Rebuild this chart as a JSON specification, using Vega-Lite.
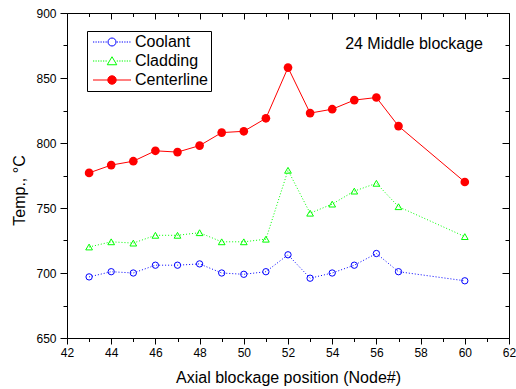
{
  "$schema": "https://vega.github.io/schema/vega-lite/v6.json",
  "width": 442,
  "height": 325,
  "autosize": {"type": "none"},
  "padding": {"left": 67, "top": 13, "right": 7, "bottom": 51},
  "background": "white",
  "config": {
    "font": "Liberation Sans",
    "view": {"stroke": "black", "strokeWidth": 1},
    "axis": {
      "grid": false,
      "domain": false,
      "tickColor": "black",
      "tickWidth": 1,
      "labelColor": "black",
      "labelFontSize": 12,
      "labelFont": "Liberation Sans",
      "labelFlush": false,
      "labelOverlap": false,
      "titleFontSize": 16,
      "titleFontWeight": "normal",
      "titleColor": "black",
      "titleFont": "Liberation Sans"
    },
    "legend": {
      "strokeColor": "black",
      "fillColor": "white",
      "strokeWidth": 1,
      "padding": 3
    }
  },
  "title": {
    "text": "24 Middle blockage",
    "anchor": "end",
    "frame": "group",
    "fontSize": 16,
    "fontWeight": "normal",
    "font": "Liberation Sans",
    "color": "black",
    "baseline": "middle",
    "offset": 0,
    "dx": -26,
    "dy": 53
  },
  "data": {
    "values": [
      {"series": "Coolant", "node": 43, "temp": 697},
      {"series": "Coolant", "node": 44, "temp": 701},
      {"series": "Coolant", "node": 45, "temp": 700},
      {"series": "Coolant", "node": 46, "temp": 706},
      {"series": "Coolant", "node": 47, "temp": 706},
      {"series": "Coolant", "node": 48, "temp": 707},
      {"series": "Coolant", "node": 49, "temp": 700},
      {"series": "Coolant", "node": 50, "temp": 699},
      {"series": "Coolant", "node": 51, "temp": 701},
      {"series": "Coolant", "node": 52, "temp": 714},
      {"series": "Coolant", "node": 53, "temp": 696},
      {"series": "Coolant", "node": 54, "temp": 700},
      {"series": "Coolant", "node": 55, "temp": 706},
      {"series": "Coolant", "node": 56, "temp": 715},
      {"series": "Coolant", "node": 57, "temp": 701},
      {"series": "Coolant", "node": 60, "temp": 694},
      {"series": "Cladding", "node": 43, "temp": 720},
      {"series": "Cladding", "node": 44, "temp": 724},
      {"series": "Cladding", "node": 45, "temp": 723},
      {"series": "Cladding", "node": 46, "temp": 729},
      {"series": "Cladding", "node": 47, "temp": 729},
      {"series": "Cladding", "node": 48, "temp": 731},
      {"series": "Cladding", "node": 49, "temp": 724},
      {"series": "Cladding", "node": 50, "temp": 724},
      {"series": "Cladding", "node": 51, "temp": 726},
      {"series": "Cladding", "node": 52, "temp": 779},
      {"series": "Cladding", "node": 53, "temp": 746},
      {"series": "Cladding", "node": 54, "temp": 753},
      {"series": "Cladding", "node": 55, "temp": 763},
      {"series": "Cladding", "node": 56, "temp": 769},
      {"series": "Cladding", "node": 57, "temp": 751},
      {"series": "Cladding", "node": 60, "temp": 728},
      {"series": "Centerline", "node": 43, "temp": 777},
      {"series": "Centerline", "node": 44, "temp": 783},
      {"series": "Centerline", "node": 45, "temp": 786},
      {"series": "Centerline", "node": 46, "temp": 794},
      {"series": "Centerline", "node": 47, "temp": 793},
      {"series": "Centerline", "node": 48, "temp": 798},
      {"series": "Centerline", "node": 49, "temp": 808},
      {"series": "Centerline", "node": 50, "temp": 809},
      {"series": "Centerline", "node": 51, "temp": 819},
      {"series": "Centerline", "node": 52, "temp": 858},
      {"series": "Centerline", "node": 53, "temp": 823},
      {"series": "Centerline", "node": 54, "temp": 826},
      {"series": "Centerline", "node": 55, "temp": 833},
      {"series": "Centerline", "node": 56, "temp": 835},
      {"series": "Centerline", "node": 57, "temp": 813},
      {"series": "Centerline", "node": 60, "temp": 770}
    ]
  },
  "layer": [
    {
      "transform": [{"filter": "datum.series == 'Coolant'"}],
      "mark": {"type": "line", "color": "#0000ff", "strokeWidth": 1, "strokeDash": [1, 2]},
      "encoding": {
        "x": {"field": "node", "type": "quantitative", "scale": {"domain": [42, 62], "nice": false, "zero": false},
          "axis": {"orient": "bottom", "values": [42, 44, 46, 48, 50, 52, 54, 56, 58, 60, 62], "format": "d", "tickSize": 6, "labelPadding": 3,
            "title": "Axial blockage position (Node#)", "titleY": 44, "titleBaseline": "alphabetic"}},
        "y": {"field": "temp", "type": "quantitative", "scale": {"domain": [650, 900], "nice": false, "zero": false},
          "axis": {"orient": "left", "values": [650, 700, 750, 800, 850, 900], "format": "d", "tickSize": 7, "labelPadding": 4,
            "title": "Temp., °C", "titleX": -48, "titleY": 177, "titleBaseline": "middle"}}
      }
    },
    {
      "transform": [{"filter": "datum.series == 'Cladding'"}],
      "mark": {"type": "line", "color": "#00ff00", "strokeWidth": 1, "strokeDash": [1, 2]},
      "encoding": {
        "x": {"field": "node", "type": "quantitative", "scale": {"domain": [42, 62], "nice": false, "zero": false},
          "axis": {"orient": "bottom", "values": [43, 45, 47, 49, 51, 53, 55, 57, 59, 61], "tickSize": 3.5, "labels": false, "title": null}},
        "y": {"field": "temp", "type": "quantitative", "scale": {"domain": [650, 900], "nice": false, "zero": false},
          "axis": {"orient": "left", "values": [675, 725, 775, 825, 875], "tickSize": 4, "labels": false, "title": null}}
      }
    },
    {
      "transform": [{"filter": "datum.series == 'Centerline'"}],
      "mark": {"type": "line", "color": "#ff0000", "strokeWidth": 1},
      "encoding": {
        "x": {"field": "node", "type": "quantitative", "scale": {"domain": [42, 62], "nice": false, "zero": false},
          "axis": {"orient": "top", "values": [42, 44, 46, 48, 50, 52, 54, 56, 58, 60, 62], "tickSize": -6, "labels": false, "title": null}},
        "y": {"field": "temp", "type": "quantitative", "scale": {"domain": [650, 900], "nice": false, "zero": false},
          "axis": {"orient": "right", "values": [650, 700, 750, 800, 850, 900], "tickSize": -7, "labels": false, "title": null}}
      }
    },
    {
      "transform": [{"filter": "datum.series == 'Coolant'"}],
      "mark": {"type": "point", "shape": "circle", "filled": false, "color": "#0000ff", "size": 40, "strokeWidth": 1, "opacity": 1},
      "encoding": {
        "x": {"field": "node", "type": "quantitative",
          "axis": {"orient": "top", "values": [43, 45, 47, 49, 51, 53, 55, 57, 59, 61], "tickSize": -3.5, "labels": false, "title": null}},
        "y": {"field": "temp", "type": "quantitative",
          "axis": {"orient": "right", "values": [675, 725, 775, 825, 875], "tickSize": -4, "labels": false, "title": null}}
      }
    },
    {
      "transform": [{"filter": "datum.series == 'Cladding'"}],
      "mark": {"type": "point", "shape": "triangle-up", "filled": false, "color": "#00ff00", "size": 45, "strokeWidth": 1, "opacity": 1},
      "encoding": {
        "x": {"field": "node", "type": "quantitative", "axis": null},
        "y": {"field": "temp", "type": "quantitative", "axis": null}
      }
    },
    {
      "transform": [{"filter": "datum.series == 'Centerline'"}],
      "mark": {"type": "point", "shape": "circle", "filled": true, "color": "#ff0000", "size": 75, "opacity": 1},
      "encoding": {
        "x": {"field": "node", "type": "quantitative", "axis": null},
        "y": {"field": "temp", "type": "quantitative", "axis": null}
      }
    },
    {
      "transform": [{"filter": "false"}],
      "mark": {"type": "point", "size": 100, "strokeWidth": 1, "opacity": 1},
      "encoding": {
        "shape": {"field": "series", "type": "nominal",
          "scale": {"domain": ["Coolant", "Cladding", "Centerline"],
            "range": [
              "M-3.8,0h0.25M-3.3,0h0.25M-2.8,0h0.25M-2.3,0h0.25M-1.8,0h0.25M-1.3,0h0.25M0.95,0h0.25M1.45,0h0.25M1.95,0h0.25M2.45,0h0.25M2.95,0h0.25M3.45,0h0.25M0.8,0A0.8,0.8,0,1,1,-0.8,0A0.8,0.8,0,1,1,0.8,0Z",
              "M-3.8,0h0.25M-3.3,0h0.25M-2.8,0h0.25M-2.3,0h0.25M-1.8,0h0.25M-1.3,0h0.25M0.95,0h0.25M1.45,0h0.25M1.95,0h0.25M2.45,0h0.25M2.95,0h0.25M3.45,0h0.25M0,-0.85L0.95,0.75L-0.95,0.75Z",
              "M-3.8,0H-0.85M0.85,0H3.8M0.85,0A0.85,0.85,0,1,1,-0.85,0A0.85,0.85,0,1,1,0.85,0Z"
            ]},
          "legend": {"orient": "none", "legendX": 20, "legendY": 18, "title": null, "padding": 3, "rowPadding": 3,
            "symbolSize": 100, "symbolStrokeWidth": 1, "symbolOffset": 14, "labelOffset": 15,
            "labelFontSize": 16, "labelFont": "Liberation Sans", "labelColor": "black",
            "strokeColor": "black", "fillColor": "white"}},
        "stroke": {"field": "series", "type": "nominal",
          "scale": {"domain": ["Coolant", "Cladding", "Centerline"], "range": ["#0000ff", "#00ff00", "#ff0000"]},
          "legend": {"orient": "none", "legendX": 20, "legendY": 18, "title": null, "padding": 3, "rowPadding": 3,
            "symbolSize": 100, "symbolStrokeWidth": 1, "symbolOffset": 14, "labelOffset": 15,
            "labelFontSize": 16, "labelFont": "Liberation Sans", "labelColor": "black",
            "strokeColor": "black", "fillColor": "white"}},
        "fill": {"field": "series", "type": "nominal",
          "scale": {"domain": ["Coolant", "Cladding", "Centerline"], "range": ["transparent", "transparent", "#ff0000"]},
          "legend": {"orient": "none", "legendX": 20, "legendY": 18, "title": null, "padding": 3, "rowPadding": 3,
            "symbolSize": 100, "symbolStrokeWidth": 1, "symbolOffset": 14, "labelOffset": 15,
            "labelFontSize": 16, "labelFont": "Liberation Sans", "labelColor": "black",
            "strokeColor": "black", "fillColor": "white"}}
      }
    }
  ],
  "resolve": {"axis": {"x": "independent", "y": "independent"}}
}
